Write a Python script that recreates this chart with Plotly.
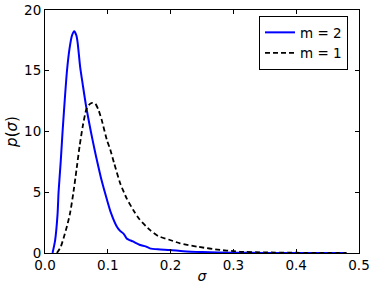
import plotly.graph_objects as go

# Blue curve, m = 2
sigma_m2 = [0.012, 0.016, 0.020, 0.0216, 0.025, 0.028, 0.032, 0.035, 0.039, 0.043, 0.0466,
            0.050, 0.052, 0.056, 0.060, 0.0657, 0.073, 0.079, 0.0826, 0.090, 0.0986, 0.105,
            0.1145, 0.120, 0.125, 0.130, 0.140, 0.1515, 0.160, 0.167, 0.180, 0.199, 0.220,
            0.250, 0.300, 0.350, 0.400, 0.480]
p_m2 = [0.0, 1.0, 3.2, 5.0, 7.5, 10.0, 13.0, 15.0, 16.8, 17.9, 18.25,
        17.9, 17.3, 15.3, 13.9, 12.0, 10.0, 8.5, 7.65, 6.0, 4.4, 3.3,
        2.16, 1.8, 1.6, 1.2, 0.95, 0.66, 0.55, 0.38, 0.30, 0.25, 0.15,
        0.08, 0.03, 0.01, 0.0, 0.0]

# Black dashed curve, m = 1
sigma_m1 = [0.019, 0.025, 0.030, 0.035, 0.040, 0.045, 0.050, 0.055, 0.060, 0.0657, 0.070,
            0.075, 0.080, 0.085, 0.090, 0.0986, 0.104, 0.110, 0.120, 0.130, 0.141, 0.150,
            0.167, 0.180, 0.199, 0.215, 0.245, 0.279, 0.300, 0.310, 0.350, 0.400, 0.450, 0.480]
p_m1 = [0.0, 0.5, 1.3, 2.2, 3.3, 4.9, 6.8, 8.75, 10.4, 11.8, 12.2,
        12.35, 12.3, 11.8, 11.0, 9.3, 8.5, 7.4, 5.7, 4.5, 3.5, 2.8,
        1.9, 1.4, 1.07, 0.8, 0.5, 0.25, 0.15, 0.1, 0.05, 0.02, 0.005, 0.0]

x_ticks = [0.0, 0.1, 0.2, 0.3, 0.4, 0.5]
x_tick_labels = ["0.0", "0.1", "0.2", "0.3", "0.4", "0.5"]
y_ticks = [0, 5, 10, 15, 20]
y_tick_labels = ["0", "5", "10", "15", "20"]

fig = go.Figure()
fig.add_trace(go.Scatter(x=sigma_m2, y=p_m2, mode="lines", name="m = 2",
                         line=dict(color="#0000ff", width=2, shape="spline", smoothing=0.6)))
fig.add_trace(go.Scatter(x=sigma_m1, y=p_m1, mode="lines", name="m = 1",
                         line=dict(color="black", width=1.8, dash="5px,3px", shape="spline", smoothing=0.6)))

axis_common = dict(showgrid=False, zeroline=False, showline=True, linecolor="black", linewidth=1,
                   mirror="ticks", ticks="inside", ticklen=4, tickcolor="black", tickwidth=1,
                   automargin=False,
                   tickfont=dict(family="DejaVu Sans", size=13.5, color="black"))

fig.update_xaxes(range=[0, 0.5], tickvals=x_ticks, ticktext=x_tick_labels,
                 title=dict(text="<i>σ</i>", font=dict(family="DejaVu Sans", size=14, color="black"), standoff=0),
                 **axis_common)
fig.update_yaxes(range=[0, 20], tickvals=y_ticks, ticktext=y_tick_labels,
                 title=dict(text="<i>p</i>(<i>σ</i>)", font=dict(family="DejaVu Sans", size=15, color="black"), standoff=2),
                 **axis_common)

fig.update_layout(
    width=374, height=284,
    margin=dict(l=45, r=15, t=10, b=31),
    paper_bgcolor="white", plot_bgcolor="white",
    font=dict(family="DejaVu Sans", size=13.5, color="black"),
    legend=dict(x=0.965, y=0.975, xanchor="right", yanchor="top",
                bordercolor="black", borderwidth=1, bgcolor="white",
                font=dict(family="DejaVu Sans", size=13.5, color="black"),
                itemwidth=30, tracegroupgap=0),
    showlegend=True,
)

fig.write_html("out.html", config={"displayModeBar": False},
               post_script="document.body.style.margin='0';")
